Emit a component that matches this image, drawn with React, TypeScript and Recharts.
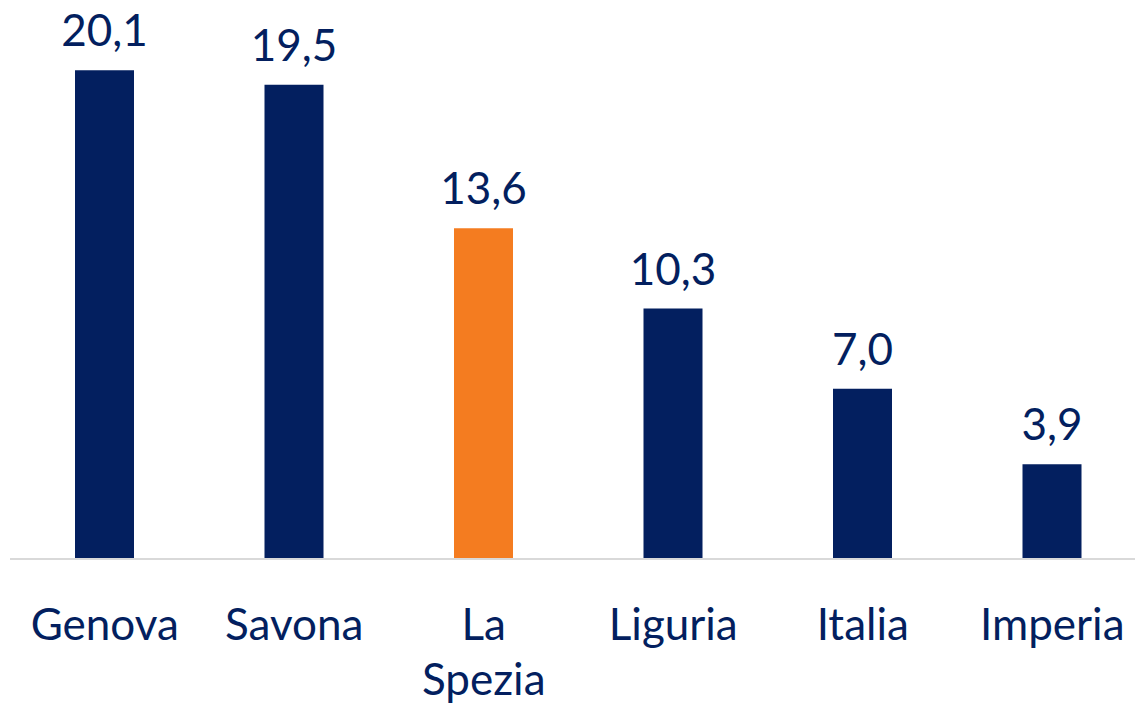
import { Bar, BarChart, Cell, LabelList, XAxis, YAxis } from "recharts";

const categories = ["Genova", "Savona", "La Spezia", "Liguria", "Italia", "Imperia"];
const values = [20.1, 19.5, 13.6, 10.3, 7.0, 3.9];
const highlighted = "La Spezia";

const NAVY = "#031f5f";
const ORANGE = "#f47c20";
const FONT = "Lato, 'Noto Sans', sans-serif";

const data = categories.map((name, i) => ({ name, value: values[i] }));

function CategoryTick(props: any) {
  const { x, y, payload } = props;
  const lines = String(payload.value).split(" ");
  return (
    <g>
      {lines.map((line: string, i: number) => (
        <text
          key={line}
          x={x}
          y={y + 81 + i * 55}
          textAnchor="middle"
          fill={NAVY}
          fontFamily={FONT}
          fontSize={44}
        >
          {line}
        </text>
      ))}
    </g>
  );
}

function ValueLabel(props: any) {
  const { x, y, width, value } = props;
  return (
    <text
      x={x + width / 2}
      y={y - 24}
      textAnchor="middle"
      fill={NAVY}
      fontFamily={FONT}
      fontSize={44}
    >
      {Number(value).toFixed(1).replace(".", ",")}
    </text>
  );
}

export default function App() {
  return (
    <div
      style={{
        position: "absolute",
        left: 0,
        top: 0,
        width: 1135,
        height: 706,
        overflow: "hidden",
        background: "#ffffff"
      }}
    >
      <BarChart
        width={1147}
        height={706}
        data={data}
        margin={{ top: 24, right: 0, bottom: 0, left: 10 }}
        barCategoryGap={0}
      >
        <XAxis
          dataKey="name"
          height={147}
          interval={0}
          tickLine={false}
          tickSize={0}
          tickMargin={0}
          axisLine={{ stroke: "#d9d9d9", strokeWidth: 2 }}
          tick={<CategoryTick />}
        />
        <YAxis hide domain={[0, 22]} />
        <Bar dataKey="value" barSize={59} isAnimationActive={false}>
          {data.map((d) => (
            <Cell key={d.name} fill={d.name === highlighted ? ORANGE : NAVY} />
          ))}
          <LabelList dataKey="value" content={<ValueLabel />} />
        </Bar>
      </BarChart>
    </div>
  );
}
